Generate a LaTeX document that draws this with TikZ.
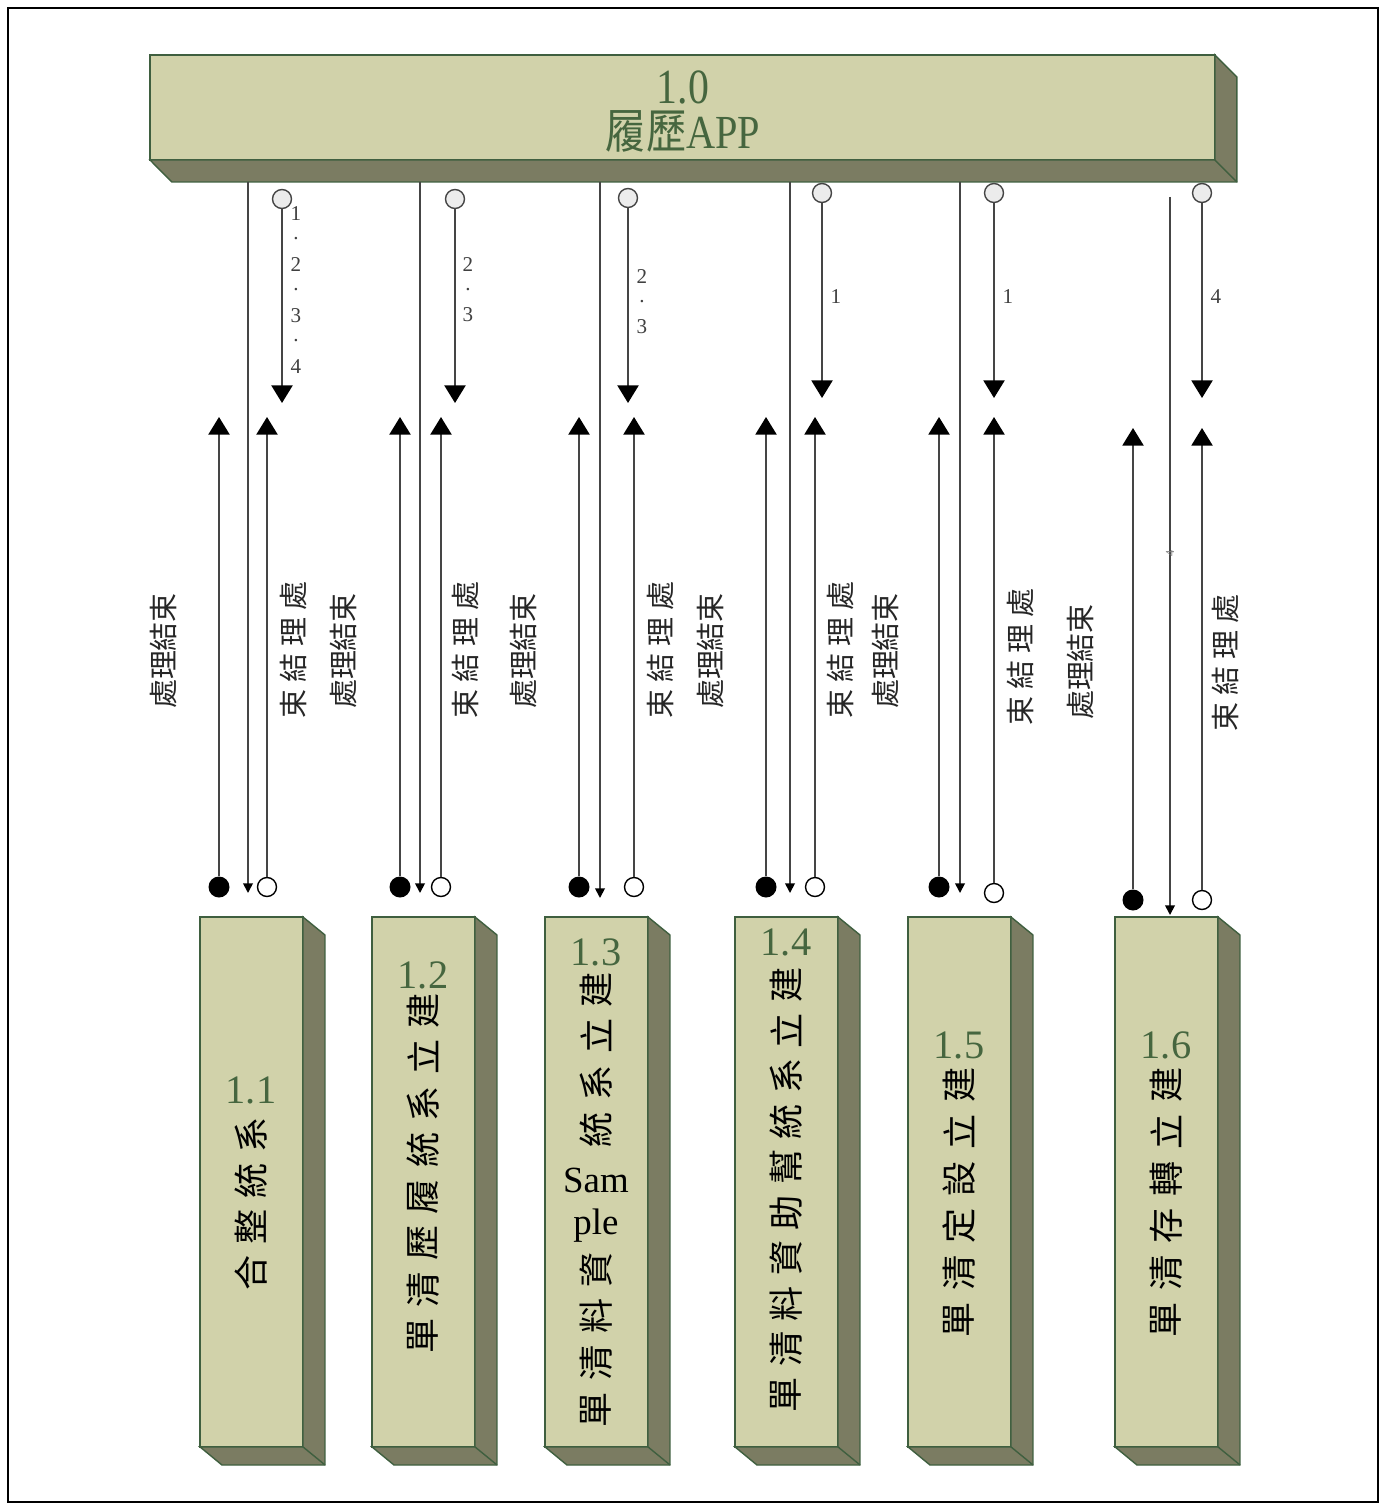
\documentclass[tikz,border=0pt]{standalone}
\usepackage{fontspec}
\setmainfont{Liberation Serif}
\newfontfamily\cjk{Noto Sans CJK TC}
\usetikzlibrary{arrows.meta}
\definecolor{facecol}{HTML}{D1D2AA}
\definecolor{sidecol}{HTML}{7B7C62}
\definecolor{edgecol}{HTML}{3F5F3F}
\definecolor{numcol}{HTML}{46663F}
\definecolor{wirecol}{HTML}{454545}
\begin{document}
\begin{tikzpicture}[x=0.02cm, y=-0.02cm,
  face/.style={draw=edgecol, line width=0.8pt, fill=facecol, inner sep=0pt, outer sep=0pt},
  side/.style={draw=edgecol, line width=0.8pt, fill=sidecol},
  wire/.style={draw=wirecol, line width=1pt},
  bigtip/.style={wire, -{Triangle[width=12pt, length=10pt, color=black]}},
  smalltip/.style={wire, -{Triangle[width=5.5pt, length=5.5pt, color=black]}},
  hollow/.style={circle, draw=black, fill=white, line width=0.8pt, minimum size=0.38cm, inner sep=0pt},
  grayhollow/.style={hollow, draw=wirecol, fill=gray!15},
  blackdot/.style={circle, fill=black, minimum size=0.42cm, inner sep=0pt},
  boxchar/.style={font=\cjk\fontsize{20}{20}\selectfont, rotate=90, inner sep=0pt},
  boxnum/.style={font=\fontsize{23}{23}\selectfont, text=numcol, inner sep=0pt},
  endlabel/.style={font=\cjk\fontsize{16.5}{16.5}\selectfont, rotate=90, text=black!85, inner sep=0pt},
  tag/.style={font=\fontsize{12}{12}\selectfont, text=black!75, inner sep=0pt}]
  \useasboundingbox (0,0) rectangle (1386,1510);
  \draw[line width=1.2pt] (8,8) rectangle (1378,1502);

  % main process
  \node[face, minimum width=21.3cm, minimum height=2.1cm, anchor=north west] (app) at (150,55) {};
  \draw[side] (app.north east) -- ++(22,22) -- ++(0,105) -- ++(-1065,0) -- (app.south west) -- (app.south east) -- cycle;
  \draw[side] (app.south east) -- ++(22,22);
  \node[font=\fontsize{28}{28}\selectfont, text=numcol, xscale=0.85] (appnum) at (683,87) {1.0};
  \node[font=\fontsize{27}{27}\selectfont, text=numcol, xscale=0.85] (appname) at (683,131) {{\cjk 履歷}APP};

  % sub processes
  \foreach \k/\x in {1/200, 2/372, 3/545, 4/735, 5/908, 6/1115} {
    \node[face, minimum width=2.06cm, minimum height=10.6cm, anchor=north west] (p\k) at (\x,917) {};
    \draw[side] (p\k.north east) -- ++(22,18) -- ++(0,530) -- ++(-103,0) -- (p\k.south west) -- (p\k.south east) -- cycle;
    \draw[side] (p\k.south east) -- ++(22,18);
  }
  \node[boxnum] (p1num) at (251,1090) {1.1};
  \foreach \c [count=\i] in {系,統,整,合}
    \node[boxchar] (p1-\i) at (251,1089+\i*46) {\c};
  \node[boxnum] (p2num) at (423,975) {1.2};
  \foreach \c [count=\i] in {建,立,系,統,履,歷,清,單}
    \node[boxchar] (p2-\i) at (423,964+\i*46.5) {\c};
  \node[boxnum] (p3num) at (596,952) {1.3};
  \foreach \c [count=\i] in {建,立,系,統}
    \node[boxchar] (p3-\i) at (596,943+\i*46.7) {\c};
  \node[font=\fontsize{21}{21}\selectfont, inner sep=0pt] (p3-5) at (596,1180) {Sam};
  \node[font=\fontsize{21}{21}\selectfont, inner sep=0pt] (p3-6) at (596,1226) {ple};
  \foreach \c [count=\i] in {資,料,清,單}
    \node[boxchar] (p3-b\i) at (596,1223+\i*46.7) {\c};
  \node[boxnum] (p4num) at (786,942) {1.4};
  \foreach \c [count=\i] in {建,立,系,統,幫,助,資,料,清,單}
    \node[boxchar] (p4-\i) at (786,939.5+\i*45.5) {\c};
  \node[boxnum] (p5num) at (959,1045) {1.5};
  \foreach \c [count=\i] in {建,立,設,定,清,單}
    \node[boxchar] (p5-\i) at (959,1038+\i*47) {\c};
  \node[boxnum] (p6num) at (1166,1045) {1.6};
  \foreach \c [count=\i] in {建,立,轉,存,清,單}
    \node[boxchar] (p6-\i) at (1166,1038+\i*47) {\c};

  % flows
  \foreach \k/\fx/\dx/\ox/\cx/\cy/\ctip/\fy/\oy/\dtip/\utip/\dtop in {
      1/219/248/267/282/199/403/887/887/893/417/182,
      2/400/420/441/455/199/403/887/887/893/417/182,
      3/579/600/634/628/198/403/887/887/898/417/182,
      4/766/790/815/822/193/398/887/887/893/417/182,
      5/939/960/994/994/193/398/887/893/893/417/182,
      6/1133/1170/1202/1202/193/398/900/900/915/428/197} {
    \node[grayhollow] (c\k) at (\cx,\cy) {};
    \coordinate (ct\k) at (\cx,\ctip);
    \draw[bigtip] (c\k) -- (ct\k);
    \coordinate (ds\k) at (\dx,\dtop);
    \coordinate (de\k) at (\dx,\dtip);
    \draw[smalltip] (ds\k) -- (de\k);
    \node[blackdot] (f\k) at (\fx,\fy) {};
    \coordinate (fu\k) at (\fx,\utip);
    \draw[bigtip] (f\k) -- (fu\k);
    \node[hollow] (o\k) at (\ox,\oy) {};
    \coordinate (ou\k) at (\ox,\utip);
    \draw[bigtip] (o\k) -- (ou\k);
  }
  \foreach \k/\lx/\ly/\rx/\ry in {1/163/651/293/650, 2/343/651/465/650, 3/523/651/660/650,
      4/710/651/840/650, 5/885/651/1020/657, 6/1080/662/1225/663} {
    \node[endlabel] (lf\k) at (\lx,\ly) {處理結束};
    \node[endlabel] (lo\k) at (\rx,\ry) {束\hspace{4pt}結\hspace{4pt}理\hspace{4pt}處};
  }

  % data tags
  \foreach \s [count=\i] in {1,.,2,.,3,.,4}
    \node[tag] (g1-\i) at (296,188+\i*25.5) {\s};
  \foreach \s [count=\i] in {2,.,3}
    \node[tag] (g2-\i) at (468,240+\i*25) {\s};
  \foreach \s [count=\i] in {2,.,3}
    \node[tag] (g3-\i) at (642,252+\i*25) {\s};
  \node[tag] (g4) at (836,297) {1};
  \node[tag] (g5) at (1008,297) {1};
  \node[tag] (g6) at (1216,297) {4};
  \node[tag, font=\fontsize{7}{7}\selectfont, rotate=90, text=gray] (g6b) at (1170,553) {4};
\end{tikzpicture}
\end{document}
